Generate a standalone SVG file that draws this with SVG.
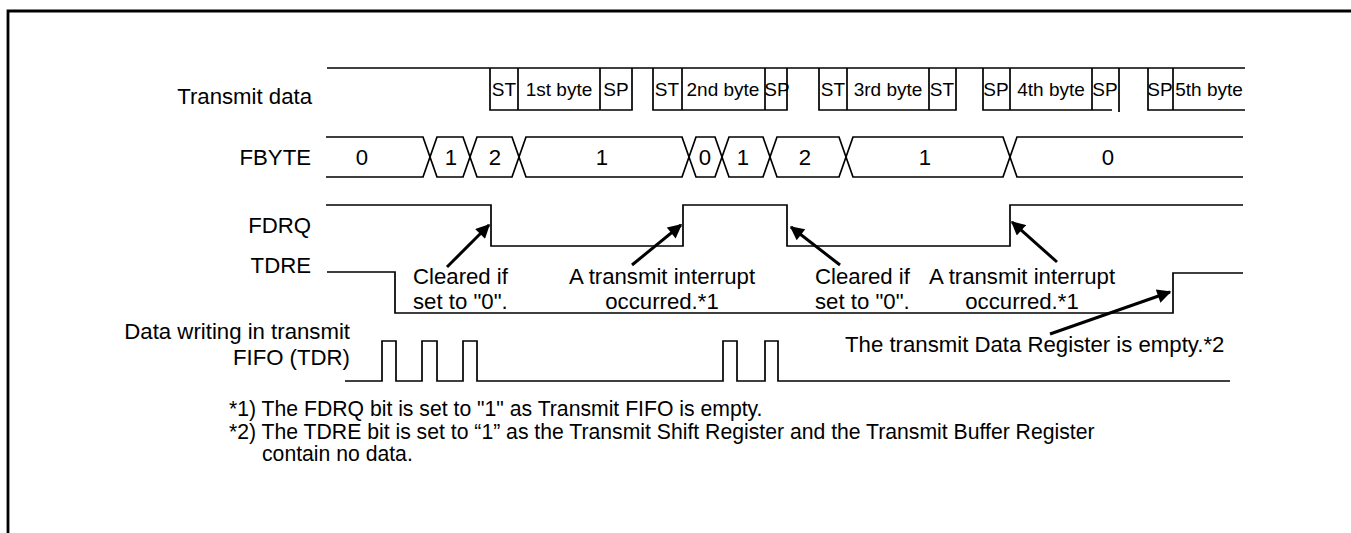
<svg xmlns="http://www.w3.org/2000/svg" width="1351" height="533" viewBox="0 0 1351 533">
<style>
text{font-family:"Liberation Sans",Arial,sans-serif;fill:#000}
.lbl{font-size:22.2px}
.note{font-size:21.2px}
.end{text-anchor:end}
.mid{text-anchor:middle}
.box{font-size:19px;text-anchor:middle}
.sig{fill:none;stroke:#000;stroke-width:1.7}
.arr{fill:none;stroke:#000;stroke-width:3;marker-end:url(#ah)}
</style>
<defs>
<marker id="ah" viewBox="0 0 10 10" refX="9" refY="5" markerWidth="16" markerHeight="14" markerUnits="userSpaceOnUse" orient="auto">
<path d="M0,0 L10,5 L0,10 Z" fill="#000"/>
</marker>
</defs>
<rect width="1351" height="533" fill="#fff"/>
<g id="frame">
<path d="M8,533 V11 H1351" fill="none" stroke="#000" stroke-width="2.8"/>
</g>
<g id="transmit-data">
<text class="lbl end" x="312" y="104">Transmit data</text>
<path class="sig" d="M327,68 H1245"/>
<path class="sig" d="M490,68 V110 H632 V68 M518,68 V110 M600,68 V110"/>
<path class="sig" d="M653,68 V110 H787 V68 M682,68 V110 M765,68 V110"/>
<path class="sig" d="M819,68 V110 H956 V68 M847,68 V110 M929,68 V110"/>
<path class="sig" d="M983,68 V110 H1112 M1010,68 V110 M1092,68 V110 M1119,68 V112"/>
<path class="sig" d="M1148,68 V110 H1245 M1173,68 V110"/>
<text class="box" x="504" y="96">ST</text>
<text class="box" x="559" y="96">1st byte</text>
<text class="box" x="616" y="96">SP</text>
<text class="box" x="667" y="96">ST</text>
<text class="box" x="723" y="96">2nd byte</text>
<text class="box" x="777" y="96">SP</text>
<text class="box" x="833" y="96">ST</text>
<text class="box" x="888" y="96">3rd byte</text>
<text class="box" x="942" y="96">ST</text>
<text class="box" x="996" y="96">SP</text>
<text class="box" x="1051" y="96">4th byte</text>
<text class="box" x="1105" y="96">SP</text>
<text class="box" x="1160" y="96">SP</text>
<text class="box" x="1209" y="96">5th byte</text>
</g>
<g id="fbyte">
<text class="lbl end" x="311" y="165">FBYTE</text>
<path class="sig" d="M326,137 H423 L437,177 H463 L477,137 H512 L526,177 H682 L696,137 H715 L729,177 H763 L777,137 H839 L853,177 H1003 L1017,137 H1243"/>
<path class="sig" d="M326,177 H423 L437,137 H463 L477,177 H512 L526,137 H682 L696,177 H715 L729,137 H763 L777,177 H839 L853,137 H1003 L1017,177 H1243"/>
<text class="lbl mid" x="362" y="165">0</text>
<text class="lbl mid" x="451" y="165">1</text>
<text class="lbl mid" x="495" y="165">2</text>
<text class="lbl mid" x="602" y="165">1</text>
<text class="lbl mid" x="705" y="165">0</text>
<text class="lbl mid" x="743" y="165">1</text>
<text class="lbl mid" x="805" y="165">2</text>
<text class="lbl mid" x="925" y="165">1</text>
<text class="lbl mid" x="1108" y="165">0</text>
</g>
<g id="fdrq">
<text class="lbl end" x="311" y="233">FDRQ</text>
<path class="sig" d="M326,205 H491 V246 H683 V205 H787 V246 H1010 V205 H1243"/>
</g>
<g id="tdre">
<text class="lbl end" x="311" y="273">TDRE</text>
<path class="sig" d="M327,272 H395 V313 H1173 V273 H1243"/>
</g>
<g id="data-writing">
<text class="lbl end" x="350" y="339">Data writing in transmit</text>
<text class="lbl end" x="350" y="365">FIFO (TDR)</text>
<path class="sig" d="M345,381 H382 V341 H396 V381 H422 V341 H437 V381 H463 V341 H477 V381 H723 V341 H737 V381 H765 V341 H778 V381 H1230"/>
</g>
<g id="annotations">
<text class="lbl" x="413" y="284">Cleared if</text>
<text class="lbl" x="413" y="309">set to "0".</text>
<text class="lbl mid" x="662" y="284">A transmit interrupt</text>
<text class="lbl mid" x="662" y="309">occurred.*1</text>
<text class="lbl" x="815" y="284">Cleared if</text>
<text class="lbl" x="815" y="309">set to "0".</text>
<text class="lbl mid" x="1022" y="284">A transmit interrupt</text>
<text class="lbl mid" x="1022" y="309">occurred.*1</text>
<text class="lbl" x="845" y="352">The transmit Data Register is empty.*2</text>
</g>
<g id="connectors">
<path class="arr" d="M447,267 L489,225"/>
<path class="arr" d="M632,265 L681,225"/>
<path class="arr" d="M840,265 L791,227"/>
<path class="arr" d="M1057,262 L1012,222"/>
<path class="arr" d="M1050,334 L1170,292"/>
</g>
<g id="notes">
<text class="note" x="229" y="416">*1) The FDRQ bit is set to "1" as Transmit FIFO is empty.</text>
<text class="note" x="229" y="439">*2) The TDRE bit is set to “1” as the Transmit Shift Register and the Transmit Buffer Register</text>
<text class="note" x="262" y="461">contain no data.</text>
</g>
</svg>
